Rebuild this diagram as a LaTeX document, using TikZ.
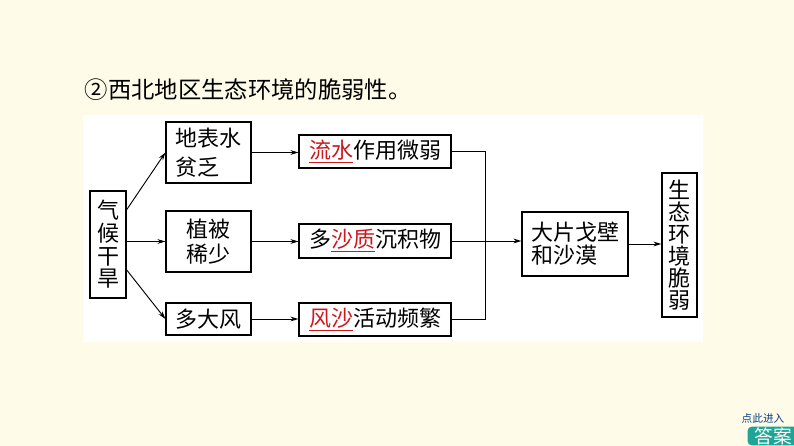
\documentclass[tikz,border=0pt]{standalone}
\usepackage{fontspec}
\setmainfont{Noto Sans CJK SC}
\usetikzlibrary{arrows.meta,positioning}

\definecolor{bgc}{RGB}{254,251,232}
\definecolor{hl}{RGB}{205,25,30}
\definecolor{btnc}{RGB}{30,165,150}
\newcommand\hlt[1]{{\color{hl}\underline{#1}}}

\begin{document}
\begin{tikzpicture}[x=0.75pt,y=-0.75pt,
  box/.style={draw,line width=0.9pt,inner sep=0pt,align=center,
    font=\fontsize{16.5}{17.5}\selectfont},
  arr/.style={-{Stealth[length=6pt,width=3.6pt]},line width=0.7pt},
  link/.style={line width=0.7pt}]
\fill[bgc] (0,0) rectangle (794,446);
\fill[white] (83,115) rectangle (703,342);
\useasboundingbox (0,0) rectangle (794,446);

\node (title) [anchor=west,font=\fontsize{17.5}{20}\selectfont] at (80,90) {②西北地区生态环境的脆弱性。};

% left column
\node (qh) [box,minimum width=27pt,minimum height=80.25pt,font=\fontsize{16.5}{17}\selectfont] at (108,244.5) {气\\候\\干\\旱};
\node (db) [box,minimum width=63.75pt,minimum height=45.75pt,align=left] at (208.5,152.5) {地表水\\[4pt]贫乏};
\node (zb) [box,minimum width=63.75pt,minimum height=45.75pt] at (208.5,241.5) {植被\\[1pt]稀少};
\node (dd) [box,minimum width=63.75pt,minimum height=24pt] at (208.5,319) {多大风};

% middle column
\node (ls)  [box,minimum width=114pt,minimum height=24.75pt] at (375,151.5) {\hlt{流水}作用微弱};
\node (dsz) [box,minimum width=114pt,minimum height=25.5pt] at (375,241) {多\hlt{沙质}沉积物};
\node (fs)  [box,minimum width=114pt,minimum height=24.75pt] at (375,319.5) {\hlt{风沙}活动频繁};

% right part
\node (gb) [box,minimum width=79.5pt,minimum height=48pt,align=left] at (575,244) {大片戈壁\\和沙漠};
\node (st) [box,minimum width=26.25pt,minimum height=108pt,font=\fontsize{16.5}{16.5}\selectfont] at (679.5,245) {生\\态\\环\\境\\脆\\弱};

\coordinate (jt) at (485,151.5);
\coordinate (jb) at (485,319.5);

\draw[arr] ([yshift=26pt]qh.east) -- (db.west);
\draw[arr] (qh.east |- zb.west) -- (zb.west);
\draw[arr] ([yshift=-19pt]qh.east) -- (dd.west);

\draw[arr] (db.east) -- (db.east -| ls.west);
\draw[arr] (zb.east) -- (zb.east -| dsz.west);
\draw[arr] (dd.east) -- (dd.east -| fs.west);

\draw[link] (ls.east) -- (jt) -- (jb) -- (fs.east);
\draw[arr] (dsz.east) -- (dsz.east -| gb.west);
\draw[arr] (gb.east) -- (gb.east -| st.west);

% answer button
\node (tip) [font=\fontsize{8}{9}\selectfont,text=blue!45!btnc!70!black] at (763,418) {点此进入};
\node (btn) [fill=btnc,rounded corners=3pt,text=white,inner xsep=5pt,inner ysep=0.5pt,
  font=\fontsize{14}{15}\selectfont] at (773,436) {答案};
\end{tikzpicture}
\end{document}
